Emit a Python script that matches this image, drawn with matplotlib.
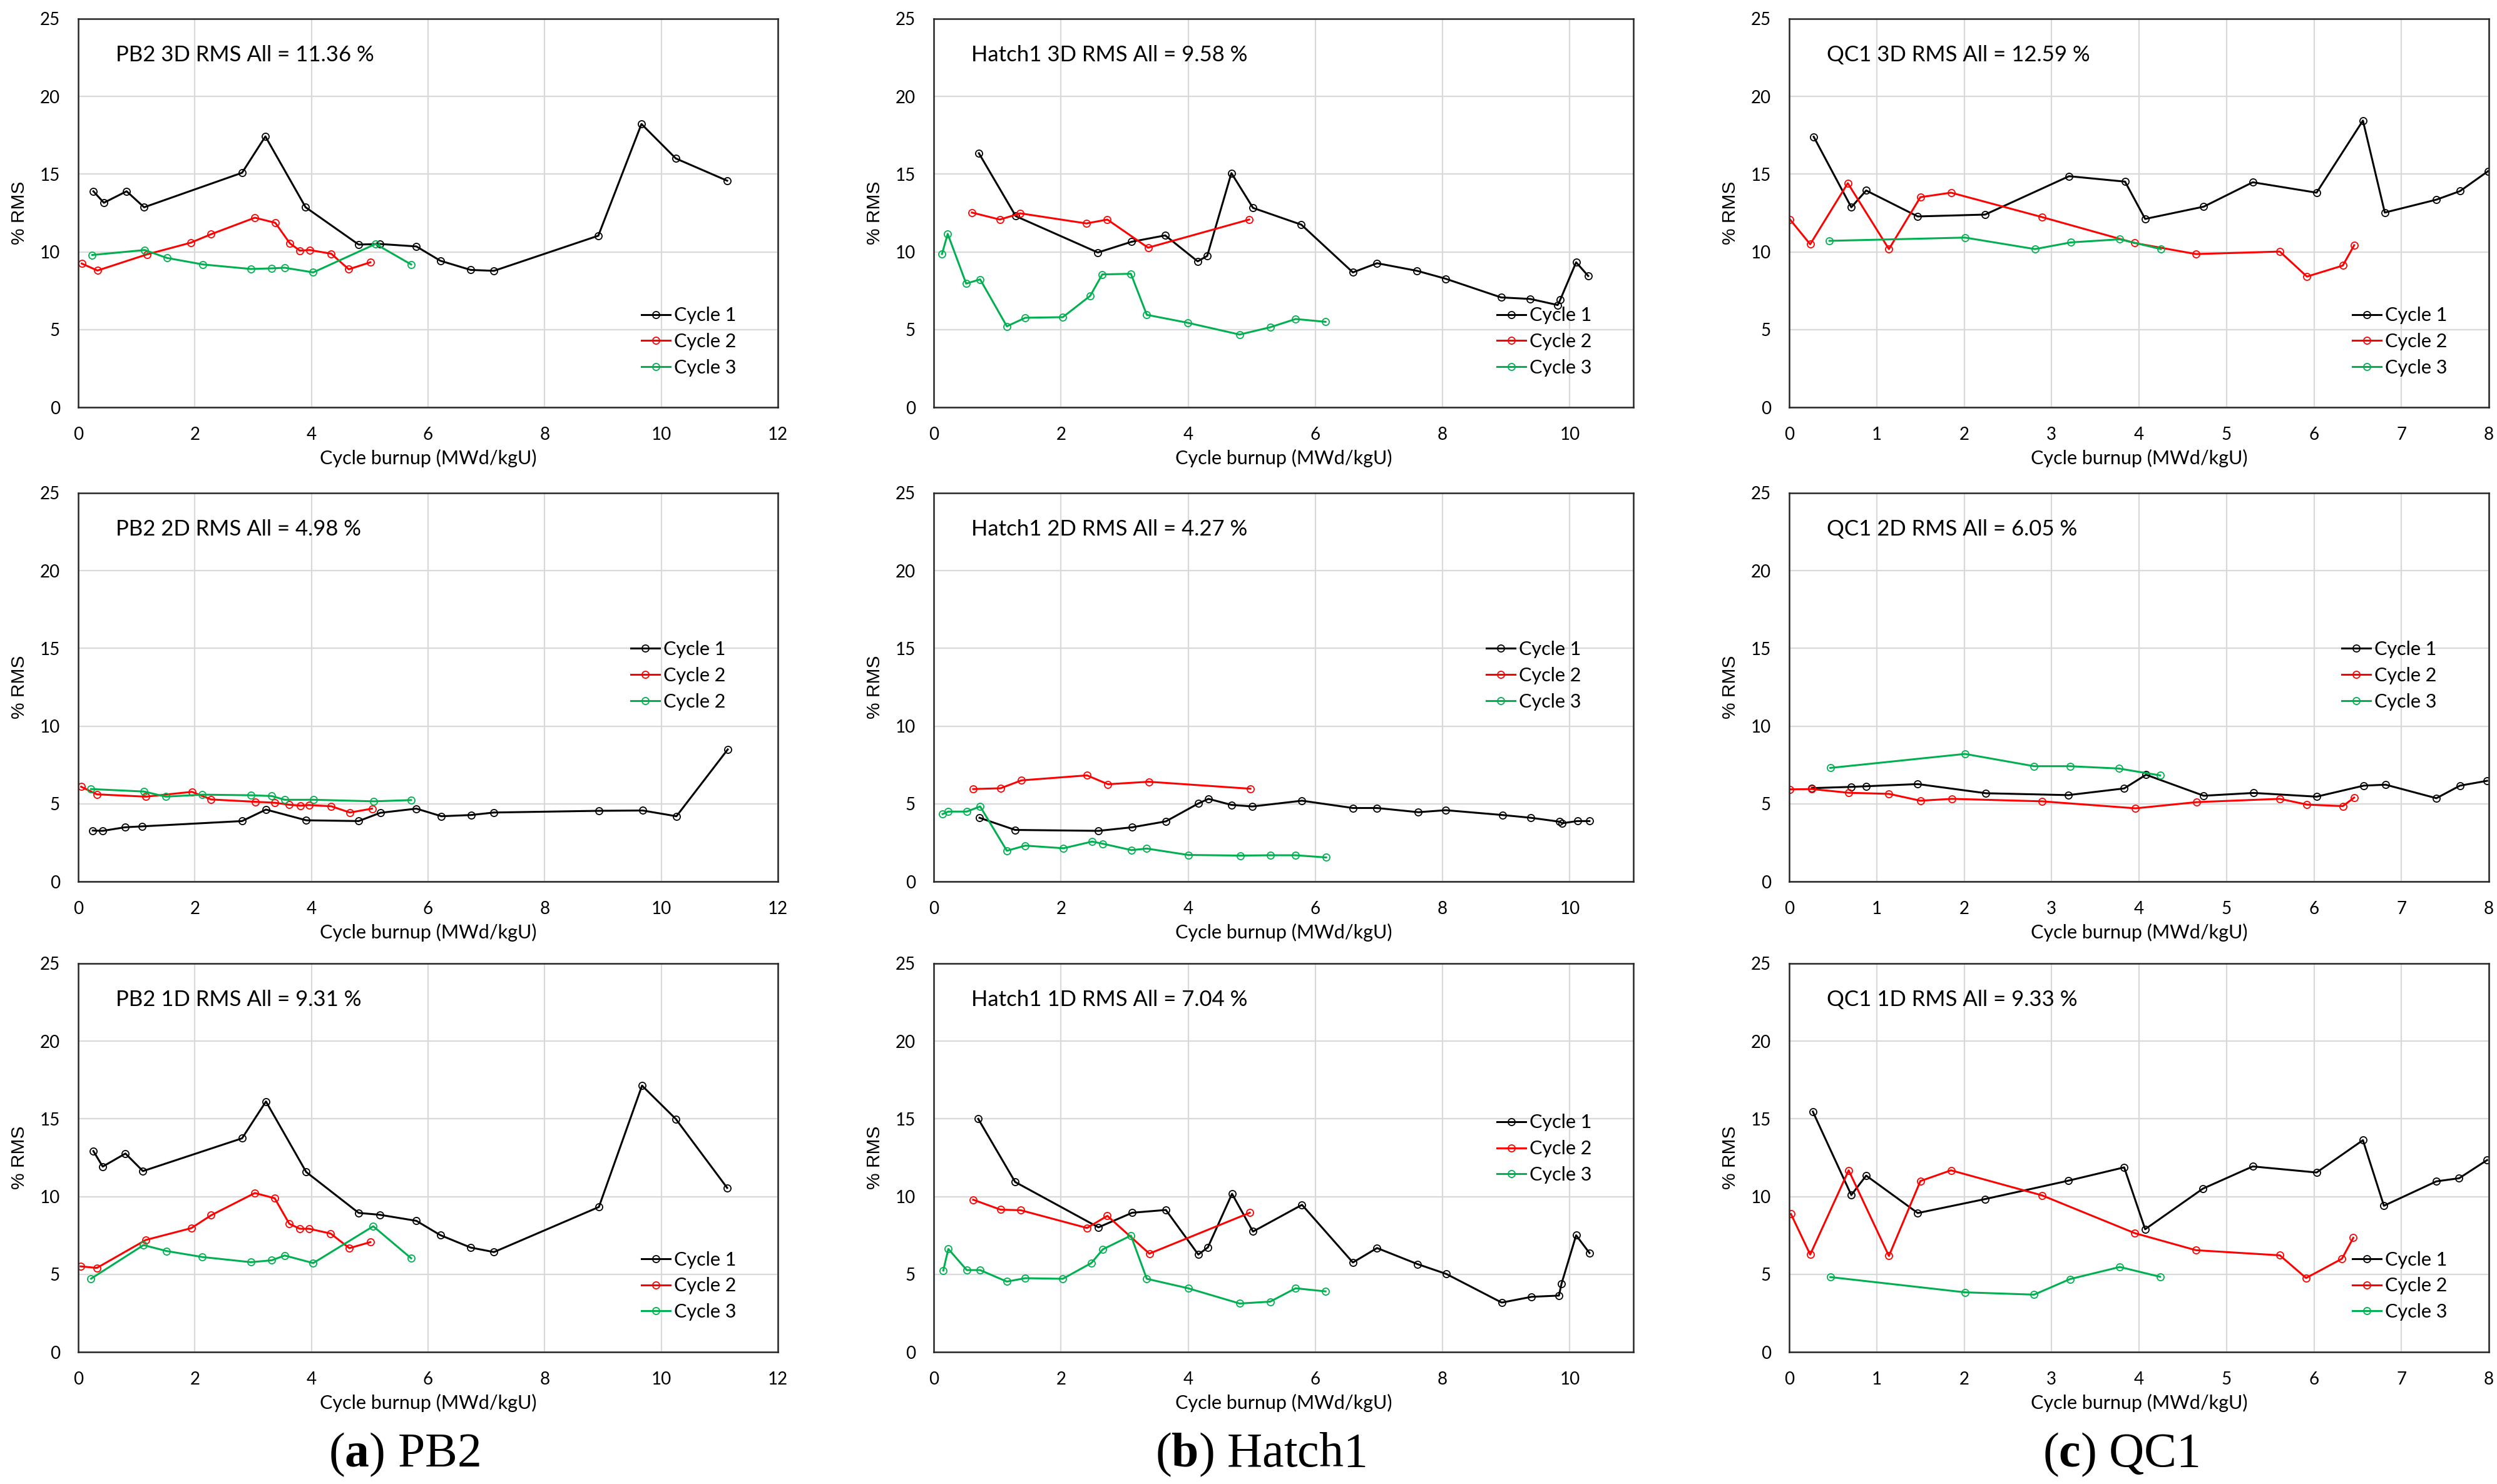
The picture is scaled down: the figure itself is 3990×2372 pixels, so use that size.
import matplotlib
matplotlib.use("Agg")
import matplotlib.pyplot as plt

# ---------------- data ----------------
# PB2 3D
pb2_3d_c1_x = [0.26, 0.44, 0.83, 1.13, 2.81, 3.21, 3.90, 4.81, 5.17, 5.80, 6.21, 6.73, 7.13, 8.92, 9.66, 10.25, 11.13]
pb2_3d_c1_y = [13.9, 13.16, 13.9, 12.87, 15.09, 17.43, 12.87, 10.47, 10.51, 10.35, 9.43, 8.84, 8.78, 11.04, 18.23, 16.01, 14.58]
pb2_3d_c2_x = [0.06, 0.33, 1.18, 1.93, 2.28, 3.03, 3.38, 3.63, 3.80, 3.97, 4.34, 4.64, 5.01]
pb2_3d_c2_y = [9.25, 8.80, 9.84, 10.59, 11.14, 12.2, 11.87, 10.55, 10.08, 10.12, 9.88, 8.88, 9.33]
pb2_3d_c3_x = [0.24, 1.14, 1.52, 2.14, 2.96, 3.32, 3.54, 4.03, 5.10, 5.71]
pb2_3d_c3_y = [9.80, 10.12, 9.61, 9.19, 8.90, 8.94, 8.98, 8.68, 10.51, 9.19]

# Hatch1 3D
h1_3d_c1_x = [0.71, 1.29, 2.58, 3.11, 3.64, 4.15, 4.30, 4.68, 5.02, 5.78, 6.59, 6.97, 7.60, 8.05, 8.92, 9.38, 9.81, 9.85, 10.10, 10.29]
h1_3d_c1_y = [16.35, 12.30, 9.96, 10.65, 11.06, 9.39, 9.74, 15.07, 12.83, 11.75, 8.68, 9.27, 8.78, 8.27, 7.07, 6.97, 6.58, 6.92, 9.33, 8.45]
h1_3d_c2_x = [0.60, 1.04, 1.36, 2.40, 2.73, 3.37, 4.96]
h1_3d_c2_y = [12.53, 12.08, 12.48, 11.83, 12.08, 10.27, 12.08]
h1_3d_c3_x = [0.13, 0.22, 0.51, 0.73, 1.15, 1.44, 2.03, 2.46, 2.65, 3.10, 3.35, 3.99, 4.81, 5.29, 5.69, 6.16]
h1_3d_c3_y = [9.86, 11.16, 7.96, 8.23, 5.21, 5.76, 5.80, 7.17, 8.55, 8.59, 5.95, 5.44, 4.68, 5.15, 5.68, 5.50]

# QC1 3D
qc1_3d_c1_x = [0.28, 0.71, 0.88, 1.47, 2.24, 3.20, 3.84, 4.07, 4.74, 5.30, 6.03, 6.56, 6.81, 7.40, 7.67, 7.99]
qc1_3d_c1_y = [17.41, 12.87, 13.95, 12.28, 12.40, 14.87, 14.52, 12.12, 12.91, 14.48, 13.81, 18.45, 12.53, 13.36, 13.91, 15.19]
qc1_3d_c2_x = [0.01, 0.24, 0.67, 1.14, 1.50, 1.85, 2.89, 3.95, 4.65, 5.61, 5.92, 6.33, 6.46]
qc1_3d_c2_y = [12.08, 10.49, 14.42, 10.18, 13.52, 13.81, 12.24, 10.57, 9.86, 10.02, 8.41, 9.12, 10.43]
qc1_3d_c3_x = [0.46, 2.01, 2.81, 3.22, 3.78, 4.25]
qc1_3d_c3_y = [10.71, 10.92, 10.18, 10.61, 10.81, 10.18]

# PB2 2D
pb2_2d_c1_x = [0.25, 0.42, 0.80, 1.10, 2.81, 3.22, 3.91, 4.81, 5.18, 5.80, 6.23, 6.74, 7.13, 8.93, 9.68, 10.26, 11.14]
pb2_2d_c1_y = [3.28, 3.26, 3.49, 3.55, 3.89, 4.63, 3.94, 3.89, 4.42, 4.69, 4.20, 4.28, 4.44, 4.55, 4.57, 4.20, 8.50]
pb2_2d_c2_x = [0.05, 0.32, 1.16, 1.95, 2.28, 3.04, 3.37, 3.62, 3.81, 3.96, 4.34, 4.66, 5.04]
pb2_2d_c2_y = [6.10, 5.61, 5.46, 5.77, 5.28, 5.13, 5.07, 4.94, 4.88, 4.92, 4.84, 4.44, 4.69]
pb2_2d_c3_x = [0.22, 1.13, 1.50, 2.13, 2.96, 3.32, 3.54, 4.04, 5.07, 5.71]
pb2_2d_c3_y = [5.95, 5.79, 5.46, 5.59, 5.55, 5.50, 5.26, 5.26, 5.16, 5.24]

# Hatch1 2D
h1_2d_c1_x = [0.72, 1.28, 2.59, 3.12, 3.65, 4.16, 4.32, 4.68, 5.01, 5.79, 6.59, 6.97, 7.62, 8.05, 8.94, 9.39, 9.84, 9.88, 10.12, 10.31]
h1_2d_c1_y = [4.10, 3.32, 3.26, 3.49, 3.87, 5.02, 5.32, 4.93, 4.83, 5.20, 4.73, 4.73, 4.46, 4.59, 4.28, 4.10, 3.85, 3.75, 3.89, 3.89]
h1_2d_c2_x = [0.62, 1.05, 1.38, 2.41, 2.74, 3.38, 4.98]
h1_2d_c2_y = [5.95, 6.00, 6.51, 6.83, 6.26, 6.42, 5.97]
h1_2d_c3_x = [0.14, 0.23, 0.52, 0.73, 1.15, 1.44, 2.04, 2.49, 2.66, 3.11, 3.35, 4.00, 4.82, 5.29, 5.69, 6.17]
h1_2d_c3_y = [4.34, 4.50, 4.50, 4.83, 1.98, 2.31, 2.14, 2.57, 2.43, 2.02, 2.12, 1.71, 1.67, 1.69, 1.69, 1.55]

# QC1 2D
qc1_2d_c1_x = [0.26, 0.71, 0.88, 1.47, 2.25, 3.19, 3.83, 4.08, 4.74, 5.31, 6.03, 6.57, 6.82, 7.40, 7.67, 7.98]
qc1_2d_c1_y = [6.01, 6.09, 6.13, 6.27, 5.68, 5.56, 5.99, 6.87, 5.52, 5.70, 5.46, 6.17, 6.23, 5.36, 6.17, 6.48]
qc1_2d_c2_x = [0.01, 0.26, 0.68, 1.14, 1.50, 1.86, 2.89, 3.96, 4.66, 5.61, 5.92, 6.33, 6.46]
qc1_2d_c2_y = [5.93, 5.95, 5.71, 5.64, 5.20, 5.32, 5.16, 4.71, 5.11, 5.32, 4.95, 4.85, 5.40]
qc1_2d_c3_x = [0.47, 2.01, 2.80, 3.21, 3.77, 4.24]
qc1_2d_c3_y = [7.31, 8.21, 7.42, 7.42, 7.27, 6.83]

# PB2 1D
pb2_1d_c1_x = [0.26, 0.42, 0.81, 1.11, 2.81, 3.22, 3.91, 4.81, 5.17, 5.80, 6.21, 6.73, 7.13, 8.93, 9.67, 10.25, 11.13]
pb2_1d_c1_y = [12.93, 11.93, 12.77, 11.64, 13.75, 16.12, 11.58, 8.95, 8.83, 8.44, 7.52, 6.72, 6.43, 9.33, 17.14, 14.99, 10.56]
pb2_1d_c2_x = [0.04, 0.32, 1.16, 1.94, 2.28, 3.03, 3.37, 3.62, 3.80, 3.96, 4.33, 4.65, 5.01]
pb2_1d_c2_y = [5.51, 5.41, 7.21, 7.97, 8.80, 10.23, 9.89, 8.25, 7.93, 7.93, 7.62, 6.68, 7.07]
pb2_1d_c3_x = [0.22, 1.12, 1.51, 2.13, 2.96, 3.32, 3.54, 4.03, 5.06, 5.71]
pb2_1d_c3_y = [4.72, 6.88, 6.50, 6.11, 5.78, 5.90, 6.21, 5.72, 8.09, 6.03]

# Hatch1 1D
h1_1d_c1_x = [0.70, 1.28, 2.59, 3.12, 3.65, 4.16, 4.31, 4.69, 5.02, 5.79, 6.59, 6.97, 7.61, 8.06, 8.93, 9.40, 9.83, 9.87, 10.10, 10.31]
h1_1d_c1_y = [15.0, 10.94, 8.02, 8.96, 9.14, 6.27, 6.73, 10.18, 7.75, 9.47, 5.76, 6.69, 5.65, 5.02, 3.18, 3.55, 3.63, 4.39, 7.51, 6.37]
h1_1d_c2_x = [0.62, 1.05, 1.37, 2.41, 2.73, 3.39, 4.97]
h1_1d_c2_y = [9.80, 9.16, 9.12, 7.98, 8.76, 6.33, 8.96]
h1_1d_c3_x = [0.15, 0.23, 0.52, 0.73, 1.15, 1.44, 2.03, 2.48, 2.66, 3.10, 3.35, 4.00, 4.81, 5.29, 5.69, 6.16]
h1_1d_c3_y = [5.24, 6.63, 5.27, 5.27, 4.53, 4.75, 4.71, 5.73, 6.61, 7.49, 4.71, 4.10, 3.12, 3.24, 4.10, 3.90]

# QC1 1D
qc1_1d_c1_x = [0.27, 0.71, 0.88, 1.47, 2.24, 3.19, 3.83, 4.07, 4.73, 5.30, 6.03, 6.56, 6.80, 7.40, 7.66, 7.98]
qc1_1d_c1_y = [15.47, 10.10, 11.35, 8.94, 9.84, 11.02, 11.88, 7.90, 10.51, 11.94, 11.55, 13.63, 9.41, 10.98, 11.18, 12.35]
qc1_1d_c2_x = [0.02, 0.24, 0.68, 1.14, 1.50, 1.85, 2.89, 3.95, 4.65, 5.61, 5.91, 6.32, 6.45]
qc1_1d_c2_y = [8.88, 6.27, 11.69, 6.18, 11.0, 11.69, 10.08, 7.65, 6.55, 6.22, 4.76, 6.0, 7.35]
qc1_1d_c3_x = [0.47, 2.01, 2.80, 3.21, 3.78, 4.24]
qc1_1d_c3_y = [4.82, 3.84, 3.69, 4.69, 5.47, 4.84]

panel_titles = [
    ["PB2 3D RMS All = 11.36 %", "Hatch1 3D RMS All = 9.58 %", "QC1 3D RMS All = 12.59 %"],
    ["PB2 2D RMS All = 4.98 %", "Hatch1 2D RMS All = 4.27 %", "QC1 2D RMS All = 6.05 %"],
    ["PB2 1D RMS All = 9.31 %", "Hatch1 1D RMS All = 7.04 %", "QC1 1D RMS All = 9.33 %"],
]
legend_labels_std = ["Cycle 1", "Cycle 2", "Cycle 3"]
legend_labels_pb2_2d = ["Cycle 1", "Cycle 2", "Cycle 2"]
plant_xmax = [12, 11, 8]
plant_xstep = [2, 2, 1]
y_ticks = [0, 5, 10, 15, 20, 25]
x_label = "Cycle burnup (MWd/kgU)"
y_label = "% RMS"
captions = [r"($\mathbf{a}$) PB2", r"($\mathbf{b}$) Hatch1", r"($\mathbf{c}$) QC1"]

series = [
    [[(pb2_3d_c1_x, pb2_3d_c1_y), (pb2_3d_c2_x, pb2_3d_c2_y), (pb2_3d_c3_x, pb2_3d_c3_y)],
     [(h1_3d_c1_x, h1_3d_c1_y), (h1_3d_c2_x, h1_3d_c2_y), (h1_3d_c3_x, h1_3d_c3_y)],
     [(qc1_3d_c1_x, qc1_3d_c1_y), (qc1_3d_c2_x, qc1_3d_c2_y), (qc1_3d_c3_x, qc1_3d_c3_y)]],
    [[(pb2_2d_c1_x, pb2_2d_c1_y), (pb2_2d_c2_x, pb2_2d_c2_y), (pb2_2d_c3_x, pb2_2d_c3_y)],
     [(h1_2d_c1_x, h1_2d_c1_y), (h1_2d_c2_x, h1_2d_c2_y), (h1_2d_c3_x, h1_2d_c3_y)],
     [(qc1_2d_c1_x, qc1_2d_c1_y), (qc1_2d_c2_x, qc1_2d_c2_y), (qc1_2d_c3_x, qc1_2d_c3_y)]],
    [[(pb2_1d_c1_x, pb2_1d_c1_y), (pb2_1d_c2_x, pb2_1d_c2_y), (pb2_1d_c3_x, pb2_1d_c3_y)],
     [(h1_1d_c1_x, h1_1d_c1_y), (h1_1d_c2_x, h1_1d_c2_y), (h1_1d_c3_x, h1_1d_c3_y)],
     [(qc1_1d_c1_x, qc1_1d_c1_y), (qc1_1d_c2_x, qc1_1d_c2_y), (qc1_1d_c3_x, qc1_1d_c3_y)]],
]

# ---------------- style ----------------
colors = ["#000000", "#ff0000", "#00b050"]
plt.rcParams['mathtext.fontset'] = 'custom'
plt.rcParams['mathtext.rm'] = 'Liberation Serif'
plt.rcParams['mathtext.bf'] = 'Liberation Serif:bold'
plt.rcParams['font.family'] = ['Lato', 'DejaVu Sans']

W, H = 3990, 2372
fig = plt.figure(figsize=(W / 100, H / 100), dpi=100)

col_left = [125, 1492, 2859]
ax_w = 1118
row_top = [30, 788, 1540]
ax_h = 621

legend_y = [0.169, 0.530, 0.170]
legend_y_h1_1d = 0.523
legend_x = [0.805, 0.790, 0.805]

for r in range(3):
    for c in range(3):
        left = col_left[c] / W
        bottom = (H - row_top[r] - ax_h) / H
        ax = fig.add_axes([left, bottom, ax_w / W, ax_h / H])
        labels = legend_labels_pb2_2d if (r == 1 and c == 0) else legend_labels_std
        for k, (xs, ys) in enumerate(series[r][c]):
            ax.plot(xs, ys, color=colors[k], lw=2.2, marker='o', ms=8,
                    mfc='none', mec=colors[k], mew=1.3, label=labels[k])
        ax.set_xlim(0, plant_xmax[c])
        ax.set_ylim(0, 25)
        ax.set_xticks(list(range(0, plant_xmax[c] + 1, plant_xstep[c])))
        ax.set_yticks(y_ticks)
        ax.grid(True, color='#d9d9d9', lw=1.6)
        ax.set_axisbelow(True)
        for sp in ax.spines.values():
            sp.set_color('#262626')
            sp.set_linewidth(1.8)
        ax.tick_params(axis='both', length=0, labelsize=20, colors='#000000')
        ax.tick_params(axis='y', pad=21)
        ax.tick_params(axis='x', pad=22)
        ax.set_xlabel(x_label, fontsize=22, va='center')
        ax.xaxis.set_label_coords(0.5, -81 / ax_h)
        ax.set_ylabel(y_label, fontsize=21.5, family=['Liberation Sans', 'DejaVu Sans'], va='center')
        ax.yaxis.set_label_coords(-94 / ax_w, 0.5)
        ax.text(0.054, 0.907, panel_titles[r][c], transform=ax.transAxes,
                fontsize=25, va='center', ha='left')
        ly = legend_y_h1_1d if (r == 2 and c == 1) else legend_y[r]
        ax.legend(loc='center left', bbox_to_anchor=(legend_x[r], ly), frameon=False,
                  borderpad=0, borderaxespad=0, handlelength=1.5, handletextpad=0.2,
                  labelspacing=0.45, fontsize=22)

cap_x = [646, 2014, 3389]
for i, cap in enumerate(captions):
    fig.text(cap_x[i] / W, 1 - 2325 / H, cap, ha='center', va='center', fontsize=56,
             family=['Liberation Serif', 'DejaVu Serif'])

fig.savefig("out.png", dpi=100)
